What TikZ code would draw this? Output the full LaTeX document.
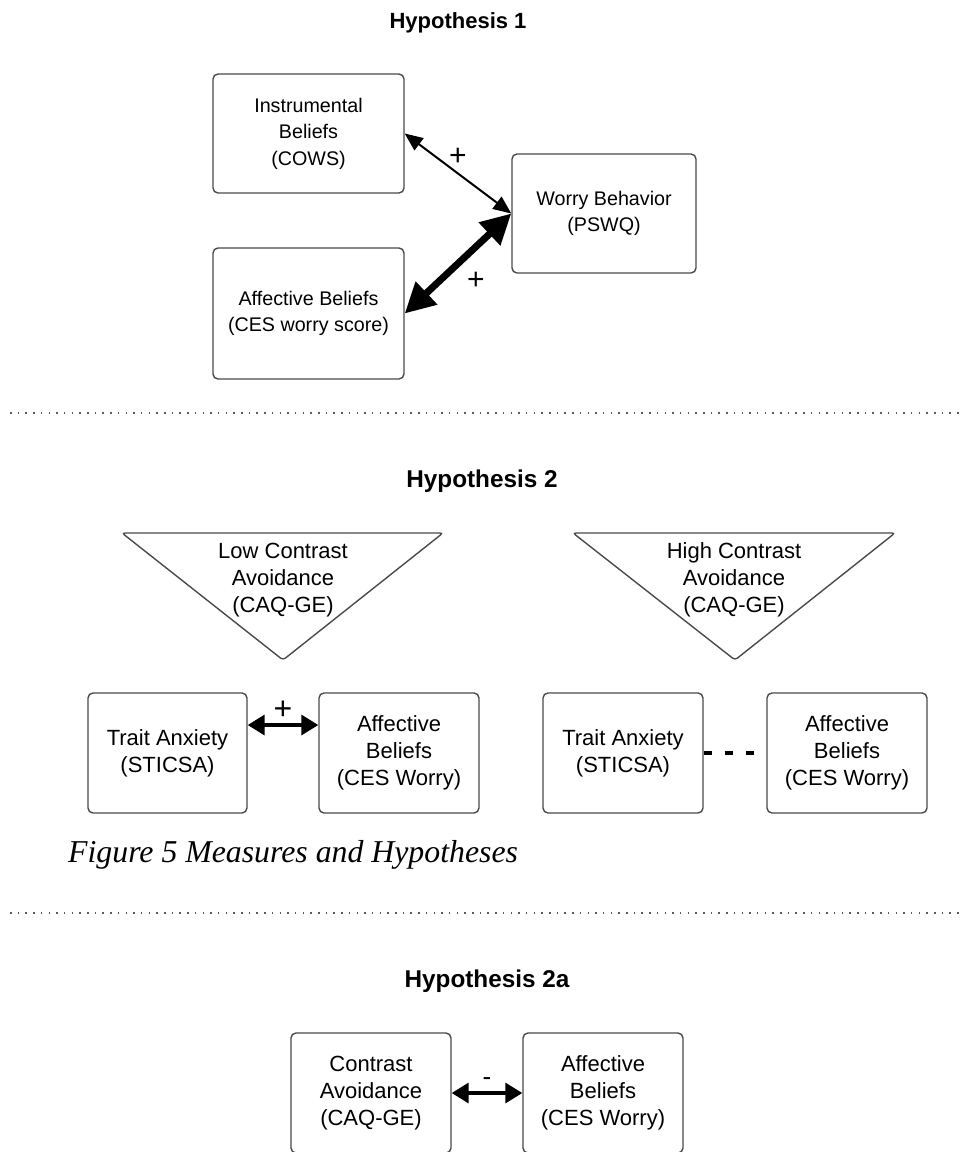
\documentclass[tikz,border=0pt]{standalone}
\usepackage{fontspec}
\setmainfont{Liberation Sans}
\newfontfamily\captionserif{Liberation Serif}
\usepackage{tikz}
\usetikzlibrary{arrows.meta}
\definecolor{boxline}{HTML}{4A4A4A}
\definecolor{dotgray}{HTML}{5A5A5A}
\newcommand{\hypsmall}{\fontsize{19.7}{26.5}\selectfont}
\newcommand{\hypbig}{\fontsize{22}{27}\selectfont}

\begin{document}
\begin{tikzpicture}[x=1pt,y=-1pt,
  box1/.style={draw=boxline,line width=1.4pt,rounded corners=5pt,align=center,inner sep=0pt,font=\hypsmall},
  box2/.style={draw=boxline,line width=1.4pt,rounded corners=5pt,align=center,inner sep=0pt,font=\hypbig,
    minimum width=160pt,minimum height=120pt},
  hyptitle/.style={anchor=base,font=\bfseries\fontsize{22}{26}\selectfont},
  hyptitlebig/.style={anchor=base,font=\bfseries\fontsize{24.3}{28}\selectfont},
  tri/.style={draw=boxline,line width=1.4pt,rounded corners=3pt},
  tritext/.style={align=center,inner sep=0pt,font=\hypbig},
  sign/.style={inner sep=0pt,font=\fontsize{30}{30}\selectfont},
  thinlink/.style={line width=2pt,{Triangle[length=18pt,width=15pt]}-{Triangle[length=18pt,width=15pt]}},
  heavylink/.style={line width=7pt,{Triangle[length=30pt,width=30pt]}-{Triangle[length=30pt,width=30pt]}},
  midlink/.style={line width=3.5pt,{Triangle[length=17pt,width=20pt]}-{Triangle[length=17pt,width=20pt]}},
  dashlink/.style={line width=3.5pt,dash pattern=on 8pt off 13pt},
  dotline/.style={dotgray,line width=1.5pt,dash pattern=on 1.5pt off 6.2pt}]
  \clip (0,0) rectangle (964,1152);

  \node[hyptitle] (hyp1) at (458,28) {Hypothesis 1};
  \node[box1,minimum width=191pt,minimum height=119pt] (instr) at (308.5,133.5) {Instrumental\\Beliefs\\(COWS)};
  \node[box1,minimum width=184pt,minimum height=119pt] (worry) at (604,213.5) {Worry Behavior\\(PSWQ)};
  \node[box1,minimum width=191pt,minimum height=131pt] (affone) at (308.5,313.5) {Affective Beliefs\\(CES worry score)};
  \draw[thinlink] (instr.east) -- (worry.west);
  \draw[heavylink] (affone.east) -- (worry.west);
  \node[sign] (plusa) at (458,157) {+};
  \node[sign] (plusb) at (476,281) {+};

  \draw[dotline] (10,413) -- (964,413);

  \node[hyptitlebig] (hyp2) at (482,487) {Hypothesis 2};
  \draw[tri] (122,533) -- (443,533) -- (283,660) -- cycle;
  \draw[tri] (573,533) -- (895,533) -- (735,660) -- cycle;
  \node[tritext] (lowca) at (283,580) {Low Contrast\\Avoidance\\(CAQ-GE)};
  \node[tritext] (highca) at (734,580) {High Contrast\\Avoidance\\(CAQ-GE)};
  \node[box2,minimum width=159pt] (traitlow) at (167.5,753) {Trait Anxiety\\(STICSA)};
  \node[box2] (afflow) at (399,753) {Affective\\Beliefs\\(CES Worry)};
  \node[box2] (traithigh) at (623,753) {Trait Anxiety\\(STICSA)};
  \node[box2] (affhigh) at (847,753) {Affective\\Beliefs\\(CES Worry)};
  \draw[midlink] ([yshift=28pt]traitlow.east) -- ([yshift=28pt]afflow.west);
  \node[sign,font=\fontsize{32}{32}\selectfont] (plusc) at (283,710) {+};
  \draw[dashlink] (traithigh.east) -- (affhigh.west);

  \node[anchor=base west,inner sep=0pt,font=\captionserif\itshape\fontsize{31.8}{36}\selectfont] (figcap) at (68,862) {Figure 5 Measures and Hypotheses};

  \draw[dotline] (10,913) -- (964,913);

  \node[hyptitlebig] (hyp2a) at (487,987) {Hypothesis 2a};
  \node[box2] (contr) at (371,1093) {Contrast\\Avoidance\\(CAQ-GE)};
  \node[box2] (affa) at (603,1093) {Affective\\Beliefs\\(CES Worry)};
  \draw[midlink] (contr.east) -- (affa.west);
  \node[sign,font=\fontsize{26}{26}\selectfont] (minus) at (487,1082) {-};
\end{tikzpicture}
\end{document}
